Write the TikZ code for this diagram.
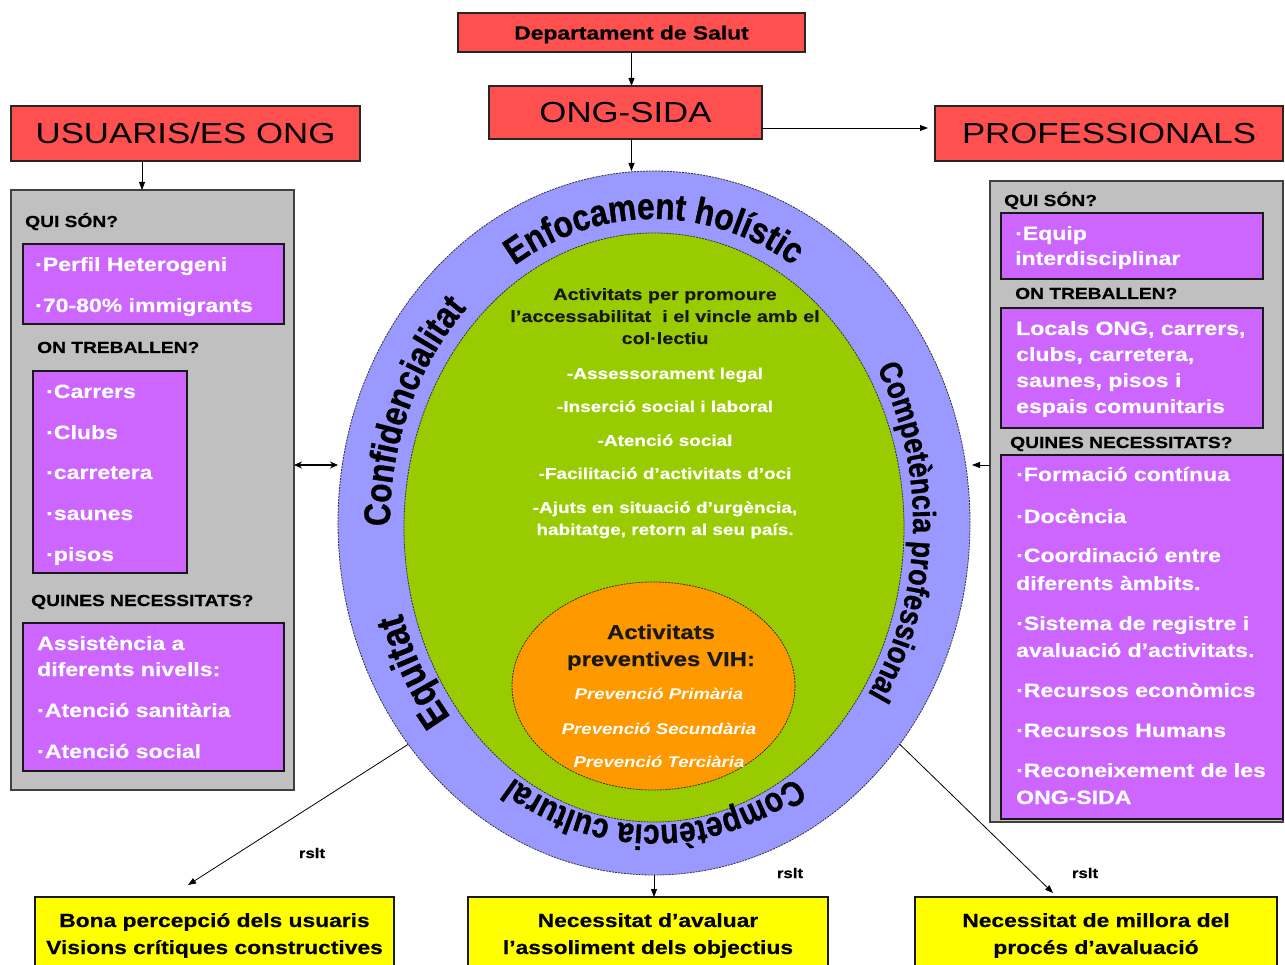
\documentclass[tikz,border=0pt]{standalone}
\usepackage{fontspec}
\setmainfont{Liberation Sans}
\newfontfamily\wf{Liberation Sans}[FakeStretch=1.2, BoldFeatures={FakeBold=0.5}]
\newfontfamily\rf{Liberation Sans}[FakeStretch=0.85, BoldFeatures={FakeBold=1}]
\usetikzlibrary{arrows.meta,decorations.text,shapes.geometric,fit}
\newcommand\myfs[1]{\fontsize{#1}{#1}\selectfont}
\definecolor{redc}{RGB}{255,80,80}
\definecolor{purp}{RGB}{204,102,255}
\definecolor{greyc}{RGB}{192,192,192}
\definecolor{ringc}{RGB}{153,153,255}
\definecolor{greenc}{RGB}{153,204,0}
\definecolor{orangec}{RGB}{255,153,0}
\definecolor{yell}{RGB}{255,255,0}
\definecolor{textdark}{RGB}{25,25,25}
\begin{document}
\begin{tikzpicture}[x=1pt,y=1pt,
  box/.style={rectangle, inner sep=0pt, outer sep=0pt},
  redbox/.style={box, draw=black!85, line width=1.2pt, fill=redc},
  panel/.style={box, draw=black!75, line width=1.5pt, fill=greyc},
  pbox/.style={box, draw=black!90, line width=1.3pt, fill=purp},
  ybox/.style={box, draw=black!90, line width=1.2pt, fill=yell},
  ringshape/.style={ellipse, inner sep=0pt, outer sep=0pt, draw=black!80, line width=0.8pt, dash pattern=on 2pt off 1pt},
  arr/.style={line width=0.8pt, -{Triangle[length=8pt,width=6pt]}},
  darr/.style={line width=1.2pt, {Stealth[length=8pt,width=7pt]}-{Stealth[length=8pt,width=7pt]}},
  head/.style={anchor=base west, inner sep=0pt, text=black, font=\wf\bfseries\myfs{16}},
  ptxt/.style={anchor=base west, inner sep=0pt, text=white, font=\wf\bfseries\myfs{19.2}},
  gtxt/.style={anchor=base, inner sep=0pt, text=textdark, font=\wf\bfseries\myfs{16.5}},
  wtxt/.style={anchor=base, inner sep=0pt, text=white, font=\wf\bfseries\myfs{15.8}},
  otxt/.style={anchor=base, inner sep=0pt, text=textdark, font=\wf\bfseries\myfs{20}},
  itxt/.style={anchor=base, inner sep=0pt, text=white, font=\wf\bfseries\itshape\myfs{15.5}},
  ytxt/.style={anchor=base, inner sep=0pt, text=black, font=\wf\bfseries\myfs{19}},
  rsltxt/.style={anchor=base, inner sep=0pt, text=black, font=\wf\bfseries\myfs{14}},
  ringtxt/.style={decorate, decoration={text along path, text align=center, text color=black}},
]
\useasboundingbox (0,0) rectangle (1285,-965);
\fill[white] (0,0) rectangle (1285,-965);

% top boxes
\node[redbox, fit={(458,-13) (805,-52)}] (dep) {};
\node[font=\wf\bfseries\myfs{19}, inner sep=0pt, anchor=base] (deptxt) at ([yshift=-7pt]dep.center) {Departament de Salut};
\node[redbox, fit={(489,-86) (762,-139)}] (ong) {};
\node[font=\wf\myfs{29}, inner sep=0pt] (ongtxt) at (ong.center) {ONG-SIDA};
\node[redbox, fit={(11,-106) (360,-161)}] (usu) {};
\node[font=\wf\myfs{29}, inner sep=0pt] (usutxt) at (usu.center) {USUARIS/ES ONG};
\node[redbox, fit={(935,-106) (1283,-161)}] (pro) {};
\node[font=\wf\myfs{29}, inner sep=0pt] (protxt) at (pro.center) {PROFESSIONALS};

% panels
\node[panel, fit={(11,-190) (294,-790)}] (lp) {};
\node[panel, fit={(990,-181) (1283,-822)}] (rp) {};
\node[pbox, fit={(23,-244) (284,-324)}] (lb1) {};
\node[pbox, fit={(33,-371) (187,-573)}] (lb2) {};
\node[pbox, fit={(23,-623) (284,-771)}] (lb3) {};
\node[pbox, fit={(1001,-213) (1263,-279)}] (rb1) {};
\node[pbox, fit={(1001,-308) (1263,-428)}] (rb2) {};
\node[pbox, fit={(1001,-455) (1283,-819)}] (rb3) {};

% panel texts
\foreach \x/\y/\t [count=\i] in {25/222/{QUI SÓN?}, 37/348/{ON TREBALLEN?}, 31/601/{QUINES NECESSITATS?}}
  \node[head] (lh\i) at (\x,-\y-5) {\t};
\foreach \x/\y/\t [count=\i] in {35/265/{·Perfil Heterogeni}, 35/306/{·70-80\% immigrants}, 46/392/{·Carrers}, 46/433/{·Clubs}, 46/473/{·carretera}, 46/514/{·saunes}, 46/555/{·pisos}, 37/644/{Assistència a}, 37/670/{diferents nivells:}, 37/711/{·Atenció sanitària}, 37/752/{·Atenció social}}
  \node[ptxt] (lt\i) at (\x,-\y-6) {\t};
\foreach \x/\y/\t [count=\i] in {1004/201/{QUI SÓN?}, 1015/294/{ON TREBALLEN?}, 1010/443/{QUINES NECESSITATS?}}
  \node[head] (rh\i) at (\x,-\y-5) {\t};
\foreach \x/\y/\t [count=\i] in {1015/234/{·Equip}, 1015/259/{interdisciplinar}, 1016/329/{Locals ONG, carrers,}, 1016/355/{clubs, carretera,}, 1016/381/{saunes, pisos i}, 1016/407/{espais comunitaris}, 1016/475/{·Formació contínua}, 1016/517/{·Docència}, 1016/556/{·Coordinació entre}, 1016/584/{diferents àmbits.}, 1016/624/{·Sistema de registre i}, 1016/651/{avaluació d’activitats.}, 1016/691/{·Recursos econòmics}, 1016/731/{·Recursos Humans}, 1016/771/{·Reconeixement de les}, 1016/798/{ONG-SIDA}}
  \node[ptxt] (rt\i) at (\x,-\y-6) {\t};

% ellipses
\node[ringshape, fill=ringc, minimum width=632pt, minimum height=704pt] (outer) at (654,-523) {};
\node[ringshape, fill=greenc, minimum width=500pt, minimum height=589pt] (green) at (654,-527.5) {};
\node[ringshape, fill=orangec, minimum width=283pt, minimum height=208pt] (orange) at (653.5,-686) {};
\coordinate (C) at (654,-523);

% ring texts
\path[ringtxt, decoration={text={|\rf\bfseries\myfs{37}|Enfocament holístic}}]
  (C) ++(170:262pt and 304pt) arc[start angle=170, end angle=10, x radius=262pt, y radius=304pt];
\path[ringtxt, decoration={text={|\rf\bfseries\myfs{32}|Competència professional}}]
  (C) ++(60:259pt and 304pt) arc[start angle=60, end angle=-64, x radius=259pt, y radius=304pt];
\path[ringtxt, decoration={text={|\rf\bfseries\myfs{35}|Competència cultural}}]
  (C) ++(-20:262pt and 302pt) arc[start angle=-20, end angle=-160, x radius=262pt, y radius=302pt];
\path[ringtxt, decoration={text={|\rf\bfseries\myfs{37}|Confidencialitat}}]
  (C) ++(200:264pt and 304pt) arc[start angle=200, end angle=114, x radius=264pt, y radius=304pt];
\path[ringtxt, decoration={text={|\rf\bfseries\myfs{40}|Equitat}}]
  (C) ++(235:264pt and 304pt) arc[start angle=235, end angle=183, x radius=264pt, y radius=304pt];

% green texts
\foreach \y/\t [count=\i] in {295/{Activitats per promoure}, 317/{l’accessabilitat~ i el vincle amb el}, 339/{col·lectiu}}
  \node[gtxt] (gd\i) at (665,-\y-5) {\t};
\foreach \y/\t [count=\i] in {374/{-Assessorament legal}, 407/{-Inserció social i laboral}, 441/{-Atenció social}, 474/{-Facilitació d’activitats d’oci}, 508/{-Ajuts en situació d’urgència,}, 530/{habitatge, retorn al seu país.}}
  \node[wtxt] (gw\i) at (665,-\y-5) {\t};
% orange texts
\node[otxt] (o1) at (661,-639) {Activitats};
\node[otxt] (o2) at (661,-666) {preventives VIH:};
\foreach \y/\t [count=\i] in {694/{Prevenció Primària}, 729/{Prevenció Secundària}, 762/{Prevenció Terciària}}
  \node[itxt] (oi\i) at (659,-\y-5) {\t};

% bottom boxes
\node[ybox, fit={(35,-897) (394,-972)}] (b1) {};
\node[ybox, fit={(468,-897) (828,-972)}] (b2) {};
\node[ybox, fit={(915,-897) (1277,-972)}] (b3) {};
\node[ytxt] (b1a) at (214.5,-927) {Bona percepció dels usuaris};
\node[ytxt] (b1b) at (214.5,-954) {Visions crítiques constructives};
\node[ytxt] (b2a) at (648,-927) {Necessitat d’avaluar};
\node[ytxt] (b2b) at (648,-954) {l’assoliment dels objectius};
\node[ytxt] (b3a) at (1096,-927) {Necessitat de millora del};
\node[ytxt] (b3b) at (1096,-954) {procés d’avaluació};

% connectors
\coordinate (yA) at (0,-128);
\coordinate (yB) at (0,-465);
\coordinate (t1) at (188,-885);
\coordinate (t3) at (1053,-893);
\draw[arr] (dep.south) -- (dep.south |- ong.north);
\draw[arr] (ong.south -| dep.south) -- (outer.north -| dep.south);
\draw[arr] (ong.east |- yA) -- ([xshift=-7pt]pro.west |- yA);
\draw[arr] ([xshift=131pt]usu.south west) -- ([xshift=131pt]usu.south west |- lp.north);
\draw[darr] (lp.east |- yB) -- (outer.west |- yB);
\draw[arr] (rp.west |- yB) -- ([xshift=2pt]outer.east |- yB);
\draw[arr] (outer.222) -- (t1);
\draw[arr] (outer.south) -- (outer.south |- b2.north);
\draw[arr] (outer.318) -- (t3);
\node[rsltxt] (r1) at (312,-858) {rslt};
\node[rsltxt] (r2) at (790,-878) {rslt};
\node[rsltxt] (r3) at (1085,-878) {rslt};
\end{tikzpicture}
\end{document}
